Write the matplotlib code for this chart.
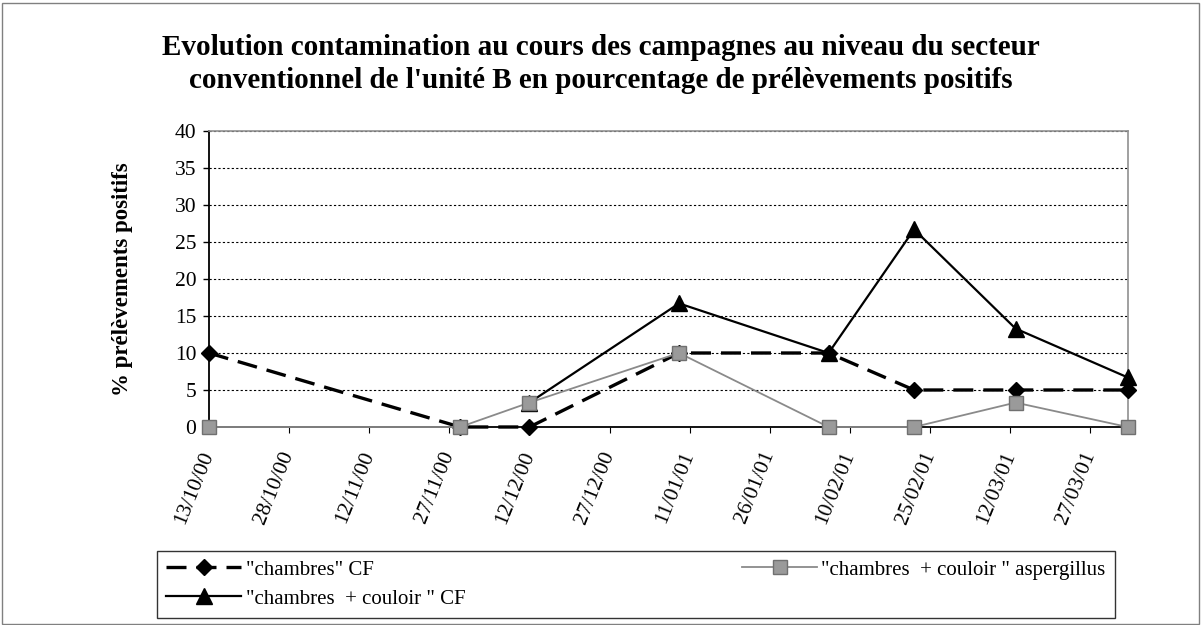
import numpy as np
import matplotlib
matplotlib.use("Agg")
import matplotlib.pyplot as plt
import matplotlib.dates as mdates
from matplotlib.patches import Rectangle
from datetime import datetime, timedelta

plt.rcParams['font.family'] = ['Liberation Serif', 'DejaVu Serif']

# dates des campagnes
campagnes = ["13/10/00", "29/11/00", "12/12/00", "09/01/01",
             "06/02/01", "22/02/01", "13/03/01", "03/04/01"]
chambres_cf = [10, 0, 0, 10, 10, 5, 5, 5]
couloir_asp = [0, 0, 3.3, 10, 0, 0, 3.3, 0]
couloir_cf = [np.nan, np.nan, 3.3, 16.7, 10, 26.7, 13.3, 6.7]

lab_chambres_cf = '"chambres" CF'
lab_couloir_asp = '"chambres  + couloir " aspergillus'
lab_couloir_cf = '"chambres  + couloir " CF'

titre = ("Evolution contamination au cours des campagnes au niveau du secteur\n"
         "conventionnel de l'unité B en pourcentage de prélèvements positifs")

dates = [datetime.strptime(d, "%d/%m/%y") for d in campagnes]
debut = dates[0]
ticks = [debut + timedelta(days=15 * i) for i in range(12)]

fig = plt.figure(figsize=(12.01, 6.25), dpi=100)
ax = fig.add_axes([0.174, 0.3168, 0.765, 0.4736])

l1, = ax.plot(dates, chambres_cf, color='black', lw=2.4, ls=(0, (6, 3)),
              marker='D', ms=8, mfc='black', mec='black', zorder=4, clip_on=False)
l2, = ax.plot(dates, couloir_asp, color='#8a8a8a', lw=1.3,
              marker='s', ms=10, mfc='#9a9a9a', mec='#707070', zorder=5, clip_on=False)
l3, = ax.plot(dates, couloir_cf, color='black', lw=1.6,
              marker='^', ms=11, mfc='black', mec='black', zorder=3, clip_on=False)

ax.set_ylim(0, 40)
ax.set_yticks(range(0, 41, 5))
ax.set_xlim(dates[0], dates[-1])
ax.set_xticks(ticks)
ax.xaxis.set_major_formatter(mdates.DateFormatter("%d/%m/%y"))
ax.grid(axis='y', color='black', ls=(0, (2, 2)), lw=0.8)
ax.set_axisbelow(True)

ax.tick_params(axis='y', labelsize=15.5, direction='out', length=4, width=1,
               pad=5)
ax.tick_params(axis='x', labelsize=15.5, direction='out', length=4, width=0.8,
               pad=14)
for t in ax.get_xticklabels():
    t.set_rotation(68)
    t.set_ha('right')
    t.set_va('center')
    t.set_rotation_mode('anchor')

for s in ['top', 'right']:
    ax.spines[s].set_color('#909090')
    ax.spines[s].set_linewidth(1.2)
ax.spines['left'].set_linewidth(1.3)
ax.spines['bottom'].set_linewidth(1.3)

ax.set_ylabel("% prélèvements positifs", fontsize=16.5, fontweight='bold',
              labelpad=30)

fig.text(0.5, 0.8976, titre, ha='center', va='center', fontsize=21,
         fontweight='bold', linespacing=1.3)

leg = fig.legend([l1, l3, l2], [lab_chambres_cf, lab_couloir_cf, lab_couloir_asp],
                 loc='lower left', bbox_to_anchor=(0.1307, 0.0112, 0.7977, 0.112),
                 mode='expand', ncol=2,
                 fontsize=15, frameon=True, fancybox=False, edgecolor='black',
                 handlelength=3.6, borderpad=0.45, borderaxespad=0,
                 labelspacing=0.45, handletextpad=0.2)
leg.get_frame().set_linewidth(1.0)

fig.patches.append(Rectangle((0.002, 0.002), 0.996, 0.994, transform=fig.transFigure,
                             fill=False, edgecolor='#808080', lw=1.0))

fig.savefig("out.png", dpi=100)
